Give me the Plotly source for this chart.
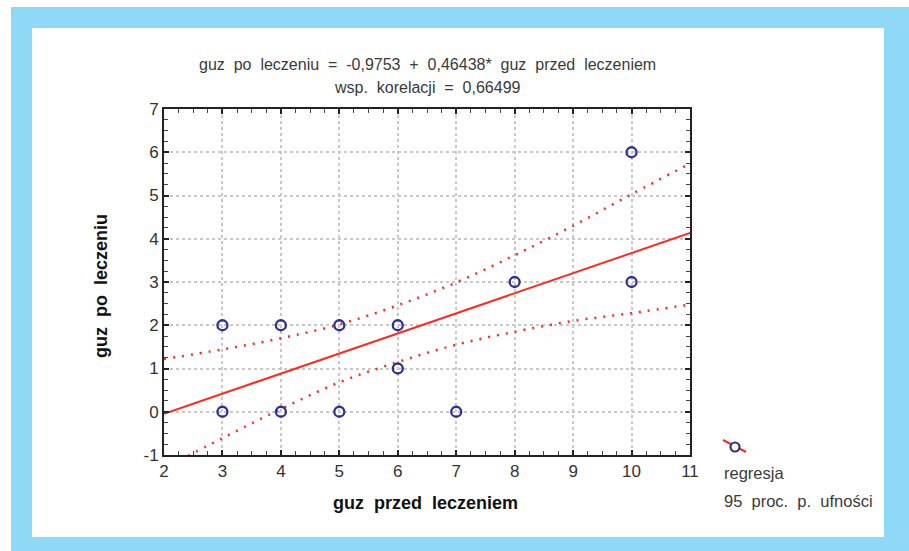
import plotly.graph_objects as go

# data
x_pts = [3, 4, 5, 6, 3, 4, 5, 7, 6, 8, 10, 10]
y_pts = [2, 2, 2, 2, 0, 0, 0, 0, 1, 3, 3, 6]

intercept = -0.9753
slope = 0.46438
x_line = [2, 11]

x_band = [2, 3, 4, 5, 6, 7, 8, 9, 10, 11]
upper_band = [1.22, 1.44, 1.70, 2.02, 2.46, 2.99, 3.62, 4.30, 5.03, 5.74]
lower_band = [-1.31, -0.61, 0.06, 0.68, 1.15, 1.55, 1.85, 2.10, 2.28, 2.48]

x_ticks = [2, 3, 4, 5, 6, 7, 8, 9, 10, 11]
x_ticklabels = ["2", "3", "4", "5", "6", "7", "8", "9", "10", "11"]
y_ticks = [-1, 0, 1, 2, 3, 4, 5, 6, 7]
y_ticklabels = ["-1", "0", "1", "2", "3", "4", "5", "6", "7"]

title1 = "guz po leczeniu = -0,9753 + 0,46438* guz przed leczeniem"
title2 = "wsp. korelacji = 0,66499"
x_title = "guz przed leczeniem"
y_title = "guz po leczeniu"
legend_labels = ["regresja", "95 proc. p. ufności"]

RED = "#ff2a1f"
BLUE = "#2e3192"
FRAME = "#8fd8f6"
FONT = "Liberation Sans"

W, H = 909, 551
L, R, T, B = 164, 690, 109, 455


def px_x(p):
    return (p - L) / (R - L)


def px_y(p):
    return (B - p) / (B - T)


def wide(s):
    return s.replace(" ", "\u00a0\u00a0")


fig = go.Figure()

fig.add_trace(go.Scatter(x=x_band, y=upper_band, mode="lines", line=dict(color=RED, width=2.5, dash="2px,7px", shape="spline"), showlegend=False, hoverinfo="skip"))
fig.add_trace(go.Scatter(x=x_band, y=lower_band, mode="lines", line=dict(color=RED, width=2.5, dash="2px,7px", shape="spline"), showlegend=False, hoverinfo="skip"))
fig.add_trace(go.Scatter(x=x_line, y=[intercept + slope * v for v in x_line], mode="lines", line=dict(color=RED, width=2), showlegend=False))
fig.add_trace(go.Scatter(x=x_pts, y=y_pts, mode="markers", marker=dict(symbol="circle-open", size=10, color=BLUE, line=dict(width=2.3, color=BLUE)), showlegend=False))

shapes = [
    dict(type="rect", xref="paper", yref="paper", x0=px_x(11), x1=px_x(912), y0=px_y(7), y1=px_y(555), fillcolor=FRAME, line=dict(width=0), layer="below"),
    dict(type="rect", xref="paper", yref="paper", x0=px_x(32), x1=px_x(884), y0=px_y(28), y1=px_y(537), fillcolor="white", line=dict(width=0), layer="below"),
    # legend symbol
    dict(type="line", xref="paper", yref="paper", x0=px_x(723), y0=px_y(440), x1=px_x(746), y1=px_y(452), line=dict(color=RED, width=2)),
    dict(type="circle", xref="paper", yref="paper", x0=px_x(730.5), y0=px_y(442.5), x1=px_x(739.5), y1=px_y(451.5), fillcolor="white", line=dict(color=BLUE, width=2.2)),
]

TXT = "#3a3a3a"
annotations = [
    dict(text=wide(title1), xref="paper", yref="paper", x=0.5, y=px_y(64), showarrow=False, font=dict(family=FONT, size=16, color=TXT), xanchor="center", yanchor="middle"),
    dict(text=wide(title2), xref="paper", yref="paper", x=0.5, y=px_y(87), showarrow=False, font=dict(family=FONT, size=16, color=TXT), xanchor="center", yanchor="middle"),
    dict(text="<b>" + wide(x_title) + "</b>", xref="paper", yref="paper", x=px_x(425), y=px_y(503), showarrow=False, font=dict(family=FONT, size=18, color="#111"), xanchor="center", yanchor="middle"),
    dict(text="<b>" + wide(y_title) + "</b>", xref="paper", yref="paper", x=px_x(101), y=px_y(286), showarrow=False, textangle=-90, font=dict(family=FONT, size=18, color="#111"), xanchor="center", yanchor="middle"),
    dict(text=wide(legend_labels[0]), xref="paper", yref="paper", x=px_x(722), y=px_y(473), showarrow=False, font=dict(family=FONT, size=16.5, color=TXT), xanchor="left", yanchor="middle"),
    dict(text=wide(legend_labels[1]), xref="paper", yref="paper", x=px_x(722), y=px_y(501), showarrow=False, font=dict(family=FONT, size=16.5, color=TXT), xanchor="left", yanchor="middle"),
]

axis_common = dict(
    showline=True, linecolor="#222", linewidth=2, mirror="ticks",
    ticks="inside", ticklen=5, tickwidth=1.5, tickcolor="#222",
    showgrid=True, gridcolor="#c8c8c8", griddash="dot", gridwidth=1.5,
    zeroline=False,
    tickfont=dict(family=FONT, size=17, color="#333"),
    minor=dict(ticks="inside", ticklen=4, tickcolor="#444", tickwidth=1, dtick=0.25, showgrid=False),
)

fig.update_xaxes(range=[2, 11], tickmode="array", tickvals=x_ticks, ticktext=x_ticklabels, **axis_common)
fig.update_yaxes(range=[-1, 7], tickmode="array", tickvals=y_ticks, ticktext=y_ticklabels, **axis_common)

fig.update_layout(
    width=W, height=H,
    margin=dict(l=L, r=W - R, t=T, b=H - B),
    paper_bgcolor="white", plot_bgcolor="rgba(0,0,0,0)",
    shapes=shapes, annotations=annotations, showlegend=False,
)

fig.write_html("out.html")
